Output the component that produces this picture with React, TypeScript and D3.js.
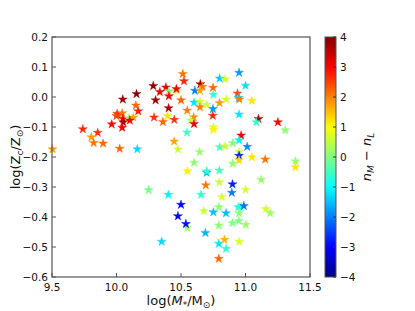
import React from "react";
import * as d3 from "d3";

const xTicks = [9.5, 10.0, 10.5, 11.0, 11.5];
const yTicks = [0.2, 0.1, 0.0, -0.1, -0.2, -0.3, -0.4, -0.5, -0.6];
const cTicks = [4, 3, 2, 1, 0, -1, -2, -3, -4];

const massVals = [
  10.155, 10.049, 10.150, 10.168, 10.005, 10.044, 10.000, 10.050, 10.097, 10.130,
  10.103, 10.052, 9.963, 10.044, 9.739, 9.854, 9.805, 9.823, 9.896, 9.504,
  10.025, 10.161, 10.514, 10.523, 10.285, 10.336, 10.383, 10.406, 10.466, 10.464,
  10.406, 10.650, 10.666, 10.608, 10.647, 10.748, 10.800, 10.842, 10.751, 10.303,
  10.500, 10.601, 10.647, 10.647, 10.699, 10.798, 10.748, 10.746, 10.404, 10.548,
  10.291, 10.396, 10.448, 10.360, 10.598, 10.577, 10.601, 10.751, 10.751, 10.546,
  10.447, 10.476, 10.645, 10.800, 10.842, 10.601, 10.950, 11.000, 10.938, 10.948,
  10.952, 10.849, 11.049, 10.950, 11.101, 11.083, 11.251, 11.308, 10.966, 10.950,
  10.901, 11.013, 10.950, 10.950, 11.049, 11.153, 10.950, 10.901, 11.387, 11.387,
  10.549, 10.699, 10.699, 10.797, 10.692, 10.797, 10.249, 10.402, 10.655, 10.500,
  10.676, 10.751, 10.793, 10.476, 10.549, 10.538, 10.793, 10.689, 10.350, 10.793,
  10.793, 10.899, 11.121, 10.894, 11.000, 10.816, 10.943, 10.966, 10.987, 10.849,
  10.950, 11.158, 11.191, 10.899, 10.948, 11.002, 10.837, 10.950, 10.849,
];
const metalVals = [
  0.010, -0.008, -0.028, -0.047, -0.056, -0.054, -0.063, -0.072, -0.071, -0.068,
  -0.078, -0.084, -0.091, -0.102, -0.107, -0.119, -0.134, -0.153, -0.155, -0.174,
  -0.172, -0.174, 0.077, 0.053, 0.037, 0.017, 0.032, 0.019, 0.022, 0.027,
  0.003, 0.043, 0.034, 0.021, 0.021, 0.031, 0.062, 0.059, 0.008, -0.011,
  -0.011, -0.018, -0.016, -0.034, -0.026, -0.020, -0.040, -0.062, -0.037, -0.045,
  -0.068, -0.063, -0.076, -0.083, -0.067, -0.078, -0.090, -0.101, -0.109, -0.118,
  -0.148, -0.175, -0.183, -0.167, -0.164, -0.219, 0.081, 0.038, 0.012, -0.003,
  -0.008, -0.008, -0.012, -0.058, -0.073, -0.084, -0.084, -0.111, -0.128, -0.144,
  -0.154, -0.166, -0.183, -0.196, -0.201, -0.208, -0.211, -0.222, -0.214, -0.234,
  -0.247, -0.252, -0.247, -0.245, -0.294, -0.284, -0.310, -0.326, -0.326, -0.359,
  -0.380, -0.384, -0.367, -0.397, -0.436, -0.423, -0.428, -0.453, -0.482, -0.489,
  -0.539, -0.291, -0.276, -0.319, -0.309, -0.333, -0.367, -0.367, -0.363, -0.387,
  -0.387, -0.373, -0.387, -0.420, -0.413, -0.426, -0.476, -0.482, -0.506,
];
const diffVals = [
  3.9, 3.8, 2.2, 2.8, 2.6, 2.1, 2.5, 3.0, 0.1, 1.7,
  3.0, 3.6, 3.0, 3.0, 2.7, 2.6, 1.8, 2.1, 2.2, 1.8,
  2.2, -1.3, 2.1, 2.7, 3.9, 3.1, 3.2, 0.0, 1.2, 3.1,
  3.0, 3.8, 2.1, -2.0, 1.7, 2.2, -1.4, 0.6, -0.6, 3.8,
  2.2, -1.2, 0.6, 2.0, 0.6, 1.8, -1.8, 2.7, 3.7, 2.0,
  2.6, 1.2, 2.6, 2.2, 1.9, 0.5, 3.1, 0.7, 1.1, -0.5,
  1.7, 0.6, 0.2, -0.4, 0.6, 0.1, -1.8, -1.2, 2.4, -1.5,
  2.0, 0.7, 1.2, -1.2, 3.6, -0.6, 3.0, 0.1, 3.1, -1.1,
  0.0, -1.9, 0.6, -2.8, 1.2, 2.1, 1.3, 0.1, 0.2, 1.2,
  1.1, -1.6, -0.6, -0.5, 2.1, 0.6, -0.1, -1.1, -0.6, -3.0,
  0.6, -1.5, 0.1, -3.1, 0.2, -2.9, 0.1, -1.6, -1.3, -1.2,
  2.2, -2.8, 0.2, -2.0, 0.7, 0.7, -0.7, -0.7, -2.1, -1.5,
  0.1, 0.7, 0.2, 0.0, 0.0, 0.2, 1.6, 0.7, -0.7,
];

function jet(t: number): string {
  const c = (v: number) => Math.max(0, Math.min(1, v));
  const r = c(Math.min(4 * t - 1.5, -4 * t + 4.5));
  const g = c(Math.min(4 * t - 0.5, -4 * t + 3.5));
  const b = c(Math.min(4 * t + 0.5, -4 * t + 2.5));
  return d3.rgb(r * 255, g * 255, b * 255).formatHex();
}

const W = 415;
const H = 311;
const left = 52, right = 310, top = 37, bottom = 277;
const cbL = 325, cbW = 11;

const fmtMinus = (s: string) => s.replace("-", "\u2212");

export default function App() {
  const x = d3.scaleLinear().domain([9.5, 11.5]).range([left, right]);
  const y = d3.scaleLinear().domain([-0.6, 0.2]).range([bottom, top]);
  const cNorm = d3.scaleLinear().domain([-4, 4]).range([0, 1]).clamp(true);
  const cY = d3.scaleLinear().domain([-4, 4]).range([bottom, top]);
  const star = d3.symbol().type(d3.symbolStar).size(25)()!;
  const stops = d3.range(0, 1.0001, 0.02);
  const font = "'DejaVu Sans', sans-serif";

  return (
    <svg width={W} height={H} style={{ position: "absolute", left: 0, top: 0, background: "#fff" }}
      fontFamily={font}>
      <defs>
        <linearGradient id="jetgrad" x1="0" y1="1" x2="0" y2="0">
          {stops.map((s, i) => (
            <stop key={i} offset={s} stopColor={jet(s)} />
          ))}
        </linearGradient>
      </defs>
      <g>
        {massVals.map((m, i) => {
          const col = jet(cNorm(diffVals[i]));
          return (
            <path key={i} d={star} transform={`translate(${x(m)},${y(metalVals[i])})`}
              fill={col} stroke={col} strokeOpacity={0.4} strokeWidth={1} />
          );
        })}
      </g>
      <rect x={left} y={top} width={right - left} height={bottom - top} fill="none" stroke="#555" strokeWidth={1.2} />
      {xTicks.map((t) => (
        <g key={"x" + t}>
          <line x1={x(t)} x2={x(t)} y1={bottom} y2={bottom - 4} stroke="#555" strokeWidth={1} />
          <text x={x(t)} y={bottom + 14} fontSize={10.5} textAnchor="middle" fill="#111">
            {d3.format(".1f")(t)}
          </text>
        </g>
      ))}
      {yTicks.map((t) => (
        <g key={"y" + t}>
          <line x1={left} x2={left + 4} y1={y(t)} y2={y(t)} stroke="#555" strokeWidth={1} />
          <text x={left - 4} y={y(t) + 4} fontSize={10.5} textAnchor="end" fill="#111">
            {fmtMinus(d3.format(".1f")(t))}
          </text>
        </g>
      ))}
      <text x={(left + right) / 2} y={305} fontSize={13} textAnchor="middle" fill="#111">
        log(<tspan fontStyle="italic">M</tspan>
        <tspan fontSize={9} dy={3}>*</tspan>
        <tspan dy={-3}>/M</tspan>
        <tspan fontSize={9} dy={3}>⊙</tspan>
        <tspan dy={-3}>)</tspan>
      </text>
      <text transform={`translate(20,${(top + bottom) / 2}) rotate(-90)`} fontSize={13} textAnchor="middle" fill="#111">
        log(Z<tspan fontSize={9} dy={3}>c</tspan>
        <tspan dy={-3}>/Z</tspan>
        <tspan fontSize={9} dy={3}>⊙</tspan>
        <tspan dy={-3}>)</tspan>
      </text>
      <rect x={cbL} y={top} width={cbW} height={bottom - top} fill="url(#jetgrad)" stroke="#555" strokeWidth={1} />
      {cTicks.map((t) => (
        <g key={"c" + t}>
          <line x1={cbL + cbW - 3} x2={cbL + cbW} y1={cY(t)} y2={cY(t)} stroke="#333" strokeWidth={1} />
          <text x={cbL + cbW + 4} y={cY(t) + 4} fontSize={10.5} textAnchor="start" fill="#111">
            {fmtMinus(String(t))}
          </text>
        </g>
      ))}
      <text transform={`translate(371,${(top + bottom) / 2}) rotate(-90)`} fontSize={13} textAnchor="middle" fill="#111">
        <tspan fontStyle="italic">n</tspan>
        <tspan fontSize={9} dy={3} fontStyle="italic">M</tspan>
        <tspan dy={-3}> − </tspan>
        <tspan fontStyle="italic">n</tspan>
        <tspan fontSize={9} dy={3} fontStyle="italic">L</tspan>
      </text>
    </svg>
  );
}
